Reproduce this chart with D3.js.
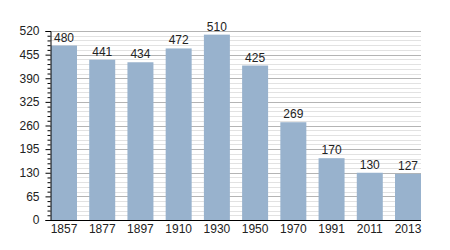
<!DOCTYPE html>
<html>
<head>
<meta charset="UTF-8">
<script src="https://d3js.org/d3.v7.min.js"></script>
<style>
  body { margin: 0; background: #fff; }
  text { font-family: "Liberation Sans", Arial, sans-serif; }
</style>
</head>
<body>
<div id="chart"></div>
<script>
// data
var years = ["1857", "1877", "1897", "1910", "1930", "1950", "1970", "1991", "2011", "2013"];
var population = [480, 441, 434, 472, 510, 425, 269, 170, 130, 127];
var yTicks = [0, 65, 130, 195, 260, 325, 390, 455, 520];
var minorStep = 13;

var W = 450, H = 250;
var plotLeft = 50, plotRight = 421, plotTop = 31, plotBottom = 220;

var svg = d3.select("#chart").append("svg")
  .attr("width", W).attr("height", H);

var x = d3.scaleBand()
  .domain(years)
  .range([plotLeft + 1, plotRight])
  .paddingInner(0.32)
  .paddingOuter(0);

var y = d3.scaleLinear()
  .domain([0, 520])
  .range([plotBottom, plotTop]);

var minor = d3.range(0, 521, minorStep).filter(function(v) { return v % 65 != 0; });

// minor grid
svg.append("g").selectAll("line").data(minor).enter().append("line")
  .attr("x1", plotLeft).attr("x2", plotRight)
  .attr("y1", function(d) { return Math.round(y(d)) + 0.5; })
  .attr("y2", function(d) { return Math.round(y(d)) + 0.5; })
  .attr("stroke", "#e2e2e2").attr("stroke-width", 1);

// major grid
svg.append("g").selectAll("line").data(yTicks.slice(1)).enter().append("line")
  .attr("x1", plotLeft).attr("x2", plotRight)
  .attr("y1", function(d) { return Math.round(y(d)) + 0.5; })
  .attr("y2", function(d) { return Math.round(y(d)) + 0.5; })
  .attr("stroke", "#b4b4b4").attr("stroke-width", 1);

// bars
svg.append("g").selectAll("rect").data(population).enter().append("rect")
  .attr("x", function(d, i) { return x(years[i]); })
  .attr("y", function(d) { return y(d); })
  .attr("width", x.bandwidth())
  .attr("height", function(d) { return plotBottom - y(d); })
  .attr("fill", "#98b2cd");

// value labels
svg.append("g").selectAll("text").data(population).enter().append("text")
  .attr("x", function(d, i) { return x(years[i]) + x.bandwidth() / 2; })
  .attr("y", function(d) { return y(d) - 4; })
  .attr("text-anchor", "middle")
  .attr("font-size", "12px")
  .attr("fill", "#222")
  .text(function(d) { return d; });

// y axis with major ticks
var yAxis = svg.append("g")
  .attr("transform", "translate(" + (plotLeft + 0.5) + ",0)")
  .call(d3.axisLeft(y).tickValues(yTicks).tickSize(5).tickPadding(6));
yAxis.select(".domain").attr("stroke", "#000");
yAxis.selectAll("text").attr("font-size", "12px").attr("fill", "#222")
  .style("font-family", "Liberation Sans, Arial, sans-serif");

// minor ticks
svg.append("g")
  .attr("transform", "translate(" + (plotLeft + 0.5) + ",0)")
  .call(d3.axisLeft(y).tickValues(minor).tickSize(3).tickFormat(""))
  .select(".domain").remove();

// x axis
var xAxis = svg.append("g")
  .attr("transform", "translate(0," + (plotBottom + 0.5) + ")")
  .call(d3.axisBottom(x).tickSize(0).tickPadding(4));
xAxis.select(".domain").attr("d", "M" + plotLeft + ",0H" + plotRight).attr("stroke", "#000");
xAxis.selectAll("text").attr("font-size", "12px").attr("fill", "#222")
  .style("font-family", "Liberation Sans, Arial, sans-serif");
</script>
</body>
</html>
